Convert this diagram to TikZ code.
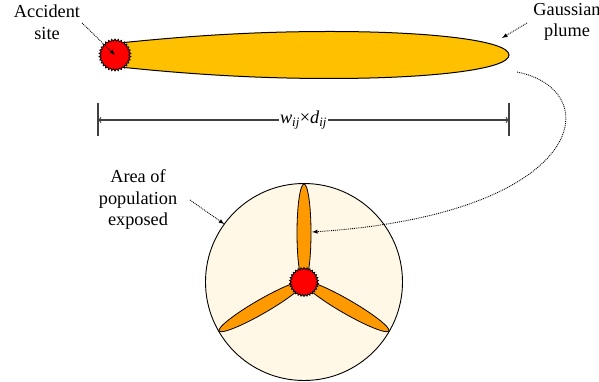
\documentclass[tikz,border=0pt]{standalone}
\usepackage{fontspec}
\setmainfont{Liberation Serif}
\newfontfamily\lblfont{Liberation Serif}
\usetikzlibrary{shapes.geometric}
\definecolor{plumegold}{HTML}{FFC000}
\definecolor{petalorange}{HTML}{FF9900}
\definecolor{zonecream}{HTML}{FFF8E7}
\definecolor{dimgray}{HTML}{404040}

\begin{document}
\begin{tikzpicture}[x=1pt, y=1pt,
        lbl/.style={align=center, font=\lblfont\fontsize{18.3}{21.5}\selectfont, inner sep=0pt},
        burst/.style={star, star points=30, star point ratio=1.15, fill=red, draw=black, line width=0.8pt, inner sep=0pt},
        petal/.style={fill=petalorange, draw=black, line width=0.8pt},
        pointer/.style={densely dotted, line width=0.9pt, -latex}]
        \useasboundingbox (0, 0) rectangle (599, 382);
        % plume
        \draw[fill=plumegold, line width=1pt] (110, 338) .. controls (180, 345.5) and (250, 350.5) .. (330, 350.5)
            .. controls (430, 350.5) and (509, 341.5) .. (509, 327) .. controls (509, 312.5) and (430, 303.5) .. (330, 303.5)
            .. controls (250, 303.5) and (180, 308.5) .. (110, 316) -- cycle;
        \coordinate (tip) at (517, 310);
        \node[burst, minimum size=32] (site) at (115, 327) {};
        \node[lbl] (sitelbl) at (47, 360) {Accident\\site};
        \node[lbl] (plumelbl) at (567, 360) {Gaussian\\plume};
        \coordinate (sitefrom) at (82, 359);
        \coordinate (plumefrom) at (527, 359);
        \coordinate (plumeto) at (502, 344);
        \draw[pointer] (sitefrom) -- (site.center);
        \draw[pointer] (plumefrom) -- (plumeto);
        % width x distance
        \coordinate (dimL) at (98, 262);
        \coordinate (dimR) at (509, 262);
        \draw[dimgray, line width=1.2pt] (98, 279) -- (98, 246);
        \draw[dimgray, line width=1.2pt] (509, 279) -- (509, 246);
        \draw[dimgray, line width=1.2pt, <->] (dimL) -- node[fill=white, inner sep=1pt, font=\lblfont\fontsize{18.3}{21}\selectfont, text=black] (dimlbl) {\textit{w}\textsubscript{\textit{ij}}×\textit{d}\textsubscript{\textit{ij}}} (dimR);
        % exposed area
        \node[circle, minimum size=197, fill=zonecream, draw=black, line width=0.9pt, outer sep=0pt] (zone) at (304, 100) {};
        \foreach \a in {90, 210, 330}
            \draw[petal, rotate around={\a:(zone.center)}] (353, 100) ellipse (49 and 7);
        \node[burst, minimum size=29] (hub) at (zone.center) {};
        \node[lbl] (zonelbl) at (138, 182) {Area of\\population\\exposed};
        \coordinate (zonefrom) at (190, 182);
        \coordinate (petalto) at (312, 150);
        \draw[pointer] (zonefrom) -- (zone.144);
        \draw[pointer] (tip) .. controls (608, 292) and (588, 168) .. (petalto);
\end{tikzpicture}
\end{document}
